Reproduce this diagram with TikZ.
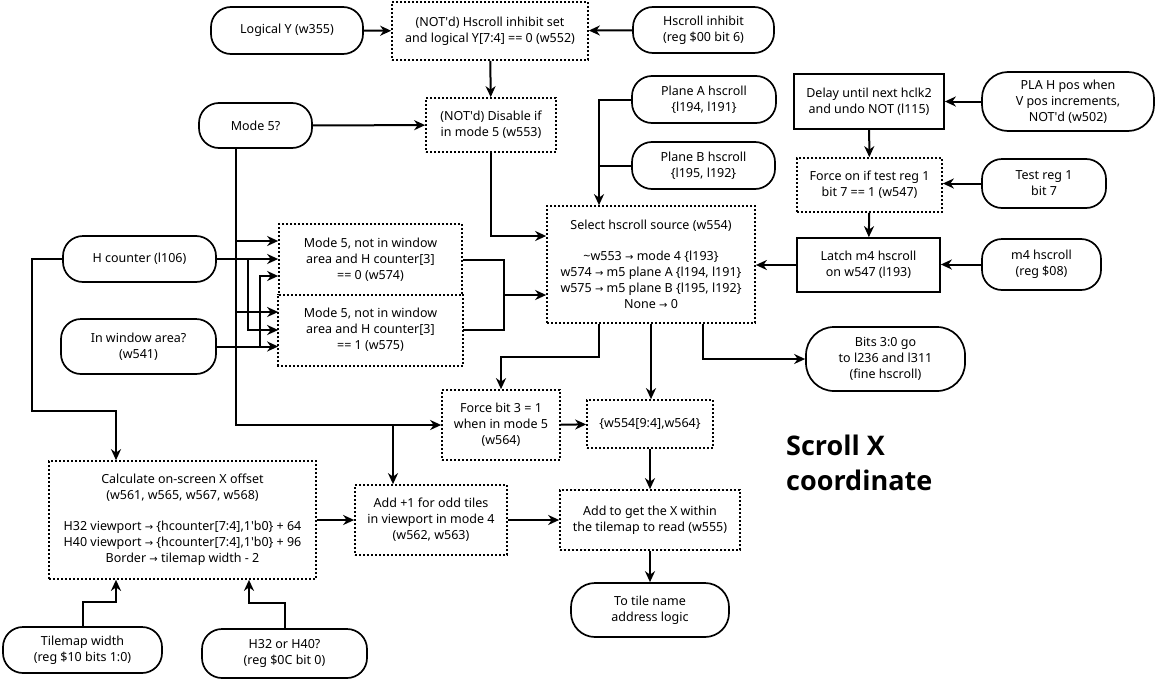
\documentclass[tikz,border=0pt]{standalone}
\usepackage{fontspec}
\setmainfont{Noto Sans}
\newfontfamily\arrowfont{DejaVu Sans}
\newfontfamily\titlefont{Open Sans}
\usetikzlibrary{arrows.meta}
\newcommand{\sarrow}{{\arrowfont\fontsize{10}{16}\selectfont →}}
\begin{document}
\begin{tikzpicture}[x=1pt,y=-1pt]
        %======estilos dos blocos==========%

            \tikzstyle{term}=[draw,line width=1.7pt,rounded corners=20pt,align=center,inner sep=0pt,font=\fontsize{12.5}{16}\selectfont]
            \tikzstyle{block}=[draw,line width=1.7pt,align=center,inner sep=0pt,font=\fontsize{12.5}{16}\selectfont]
            \tikzstyle{block_dot}=[block,dash pattern=on 2pt off 2pt]
            \tikzstyle{edge}=[-{Stealth[length=11pt,width=10pt,inset=3.5pt]},line width=2pt]
            \tikzstyle{line}=[line width=2pt]

        %====================%%=============%

            \useasboundingbox (0,0) rectangle (1158,680);

            \node[term,minimum width=152pt,minimum height=47pt](ly) at (287,30.5) {Logical Y (w355)};
            \node[block_dot,minimum width=196pt,minimum height=58pt](w552) at (490,31) {(NOT\textquotesingle d) Hscroll inhibit set\\and logical Y[7:4] == 0 (w552)};
            \node[term,minimum width=141pt,minimum height=46pt](hsi) at (703.5,30) {Hscroll inhibit\\(reg \$00 bit 6)};
            \node[term,minimum width=113pt,minimum height=45pt](m5) at (255.5,125.5) {Mode 5?};
            \node[block_dot,minimum width=130pt,minimum height=54pt](w553) at (491,125) {(NOT\textquotesingle d) Disable if\\in mode 5 (w553)};
            \node[term,minimum width=144pt,minimum height=47pt](pla) at (704,99.5) {Plane A hscroll\\\{l194, l191\}};
            \node[term,minimum width=143pt,minimum height=47pt](plb) at (703.5,165.5) {Plane B hscroll\\\{l195, l192\}};
            \node[block,minimum width=150pt,minimum height=55pt](dly) at (869,101.5) {Delay until next hclk2\\and undo NOT (l115)};
            \node[term,rounded corners=26pt,minimum width=172pt,minimum height=59pt](plah) at (1068,101.5) {PLA H pos when\\V pos increments,\\NOT\textquotesingle d (w502)};
            \node[block_dot,minimum width=145pt,minimum height=54pt](frc) at (869.5,185) {Force on if test reg 1\\bit 7 == 1 (w547)};
            \node[term,minimum width=124pt,minimum height=49pt](tst) at (1044,183.5) {Test reg 1\\bit 7};
            \node[block,minimum width=143pt,minimum height=54pt](ltc) at (868.5,265) {Latch m4 hscroll\\on w547 (l193)};
            \node[term,minimum width=119pt,minimum height=51pt](m4) at (1041.5,264.5) {m4 hscroll\\(reg \$08)};
            \node[block_dot,minimum width=208pt,minimum height=117pt](sel) at (651,264.5) {Select hscroll source (w554)\\[15pt]\textasciitilde w553 \sarrow{} mode 4 \{l193\}\\w574 \sarrow{} m5 plane A \{l194, l191\}\\w575 \sarrow{} m5 plane B \{l195, l192\}\\None \sarrow{} 0};
            \node[term,minimum width=153pt,minimum height=46pt](hc) at (139.5,259) {H counter (l106)};
            \node[term,minimum width=155pt,minimum height=55pt](win) at (138.5,346.5) {In window area?\\(w541)};
            \node[block_dot,minimum width=183pt,minimum height=71pt](w574) at (370.5,259.5) {Mode 5, not in window\\area and H counter[3]\\== 0 (w574)};
            \node[block_dot,draw=none,minimum width=183pt,minimum height=70pt](w575) at (370.5,330) {Mode 5, not in window\\area and H counter[3]\\== 1 (w575)};
            \draw[line width=1.7pt,dash pattern=on 2pt off 2pt](w575.north east) -- (w575.south east) -- (w575.south west) -- (w575.north west);
            \node[term,rounded corners=28pt,minimum width=159pt,minimum height=64pt](bits) at (885.5,359) {Bits 3:0 go\\to l236 and l311\\(fine hscroll)};
            \node[block_dot,minimum width=118pt,minimum height=70pt](f3) at (501,425) {Force bit 3 = 1\\when in mode 5\\(w564)};
            \node[block_dot,minimum width=126pt,minimum height=48pt](cat) at (650,424) {\{w554[9:4],w564\}};
            \node[block_dot,minimum width=267pt,minimum height=118pt](calc) at (182.5,520) {Calculate on-screen X offset\\(w561, w565, w567, w568)\\[15pt]H32 viewport \sarrow{} \{hcounter[7:4],1\textquotesingle b0\} + 64\\H40 viewport \sarrow{} \{hcounter[7:4],1\textquotesingle b0\} + 96\\Border \sarrow{} tilemap width - 2};
            \node[block_dot,minimum width=152pt,minimum height=70pt](add1) at (431,520) {Add +1 for odd tiles\\in viewport in mode 4\\(w562, w563)};
            \node[block_dot,minimum width=180pt,minimum height=60pt](addx) at (650,520) {Add to get the X within\\the tilemap to read (w555)};
            \node[term,rounded corners=24pt,minimum width=158pt,minimum height=54pt](tile) at (650,610) {To tile name\\address logic};
            \node[term,minimum width=159pt,minimum height=46pt](tmw) at (82.5,650) {Tilemap width\\(reg \$10 bits 1:0)};
            \node[term,minimum width=165pt,minimum height=49pt](hsel) at (284.5,653.5) {H32 or H40?\\(reg \$0C bit 0)};
            \node[anchor=north west,align=left,inner sep=0pt,font=\titlefont\fontsize{27}{35}\selectfont\bfseries](titulo) at (786,435) {Scroll X\\coordinate};

        %======pontos de juncao==========%

            \coordinate (m5x) at ([xshift=-19.5pt]m5.south);
            \coordinate (hcL) at (32,411);
            \coordinate (mj) at (504,295);
            \coordinate (selA) at ([xshift=-52pt]sel.north);

        %======ligacoes==========%

            \draw[edge](ly) -- (w552);
            \draw[edge](hsi) -- (w552);
            \draw[edge](w552) -- (w553);
            \draw[edge](m5) -- (w553);
            \draw[edge](w553.south) |- ([yshift=28.5pt]sel.west);
            \draw[edge](pla.west) -| (selA);
            \draw[line](plb.west) -- (selA |- plb.west);
            \draw[edge](plah) -- (dly);
            \draw[edge](dly) -- (frc);
            \draw[edge](tst.west) -- (tst.west -| frc.east);
            \draw[edge](frc) -- (ltc);
            \draw[edge](m4.west) -- (m4.west -| ltc.east);
            \draw[edge](ltc.west) -- (ltc.west -| sel.east);

            \draw[edge](m5x) |- (f3.west);
            \draw[edge](m5x |- w574.west) ++(0,-18.5) -- ([yshift=18.5pt]w574.west);
            \draw[edge](m5x |- w575.west) ++(0,-18) -- ([yshift=18pt]w575.west);
            \draw[edge](hc.east) -- (hc.east -| w574.west);
            \draw[edge]([xshift=31pt]hc.east) |- (w575.west);
            \draw[edge](win.east) -- (win.east -| w575.west);
            \draw[edge]([xshift=43pt]win.east) |- ([yshift=-16.5pt]w574.west);
            \draw[edge]([xshift=-38pt]add1.north |- f3.west) -- ([xshift=-38pt]add1.north);
            \draw[edge](hc.west) -| (hcL) -| ([xshift=-66.5pt]calc.north);

            \draw[line](w574.east) -| (mj) |- (w575.east);
            \draw[edge](mj) -- (mj -| sel.west);

            \draw[edge]([xshift=-52pt]sel.south) -- ++(0,33) -| (f3.north);
            \draw[edge](sel.south) -- (sel.south |- cat.north);
            \draw[edge]([xshift=52pt]sel.south) |- (bits.west);
            \draw[edge](f3) -- (cat);
            \draw[edge](cat.south) -- (cat.south |- addx.north);
            \draw[edge](calc) -- (add1);
            \draw[edge](add1) -- (addx);
            \draw[edge](addx) -- (tile);
            \draw[edge](tmw.north) -- ++(0,-24) -| ([xshift=-66.5pt]calc.south);
            \draw[edge](hsel.north) -- ++(0,-25) -| ([xshift=66.5pt]calc.south);
        \end{tikzpicture}
\end{document}
